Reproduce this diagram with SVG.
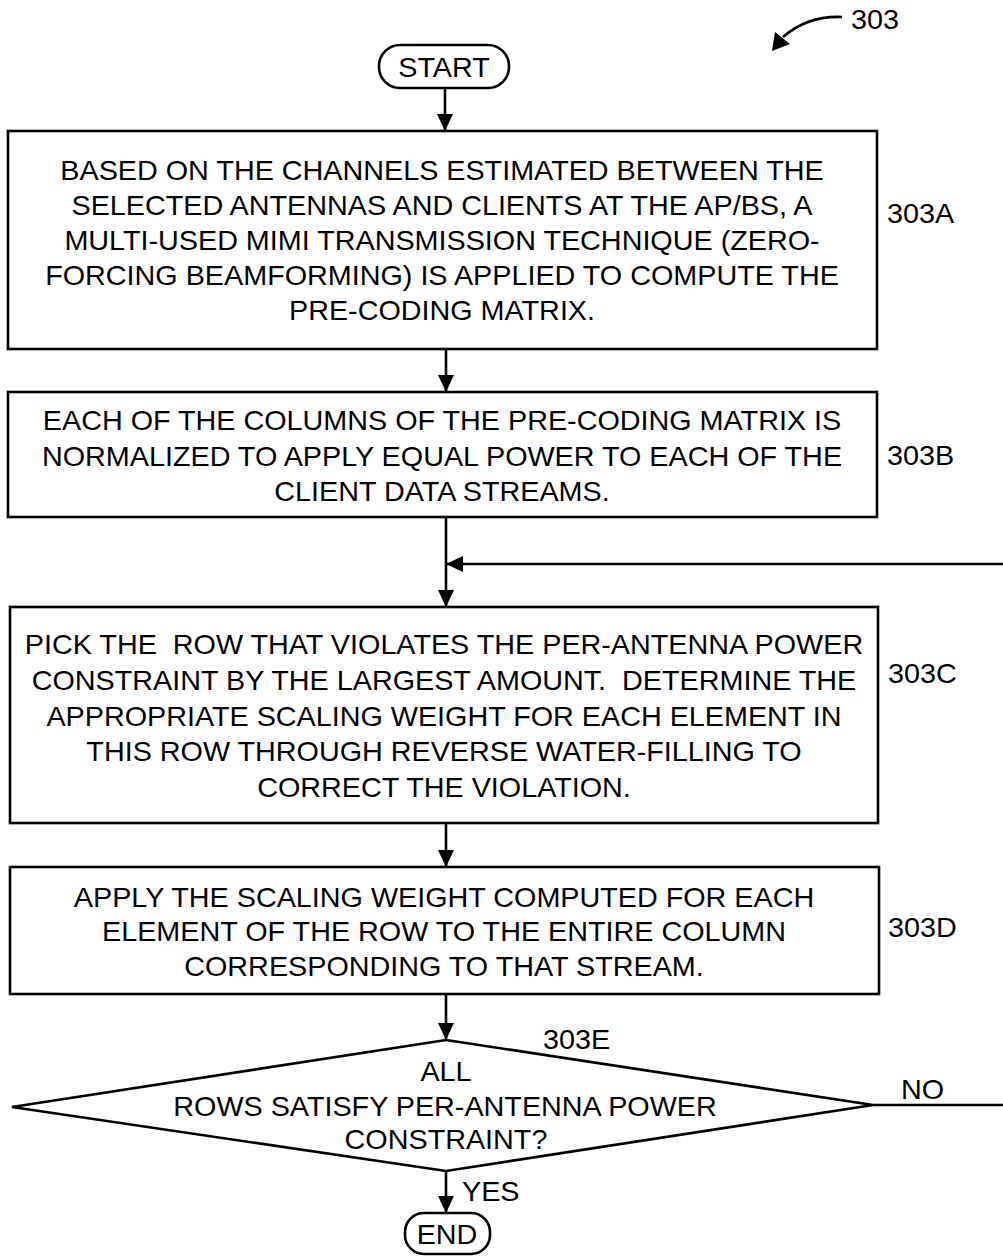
<svg xmlns="http://www.w3.org/2000/svg" width="1003" height="1258" viewBox="0 0 1003 1258">
<style>
.box{fill:#fff;stroke:#000;stroke-width:2.6}
.ln{fill:none;stroke:#000;stroke-width:2.6}
.t{font-family:"Liberation Sans",Arial,Helvetica,sans-serif;font-size:27px;fill:#000;text-anchor:middle}
.l{font-family:"Liberation Sans",Arial,Helvetica,sans-serif;font-size:27px;fill:#000;text-anchor:start}
</style>
<defs>
<marker id="ah" markerWidth="17" markerHeight="16" refX="17" refY="8" orient="auto" markerUnits="userSpaceOnUse">
<path d="M0,0 L17,8 L0,16 Z" fill="#000"/>
</marker>
</defs>

<g id="ref303">
<text class="l" transform="translate(851 29) scale(1.065 1)">303</text>
<path class="ln" d="M842,17 C818,16 798,24 783,37"/>
<path d="M772,51 L775,32 L790,44 Z" fill="#000"/>
</g>

<g id="start">
<rect class="box" x="379" y="45" width="130" height="43" rx="21" ry="21"/>
<text class="t" transform="translate(444 77) scale(1.065 1)">START</text>
</g>

<g id="n303A">
<rect class="box" x="8" y="131" width="869" height="218"/>
<text class="t" transform="translate(442 180) scale(1.065 1)">BASED ON THE CHANNELS ESTIMATED BETWEEN THE</text>
<text class="t" transform="translate(442 215) scale(1.065 1)">SELECTED ANTENNAS AND CLIENTS AT THE AP/BS, A</text>
<text class="t" transform="translate(442 250) scale(1.065 1)">MULTI-USED MIMI TRANSMISSION TECHNIQUE (ZERO-</text>
<text class="t" transform="translate(442 285) scale(1.065 1)">FORCING BEAMFORMING) IS APPLIED TO COMPUTE THE</text>
<text class="t" transform="translate(442 320) scale(1.065 1)">PRE-CODING MATRIX.</text>
<text class="l" transform="translate(887 223) scale(1.065 1)">303A</text>
</g>

<g id="n303B">
<rect class="box" x="8" y="392" width="869" height="125"/>
<text class="t" transform="translate(442 430) scale(1.065 1)">EACH OF THE COLUMNS OF THE PRE-CODING MATRIX IS</text>
<text class="t" transform="translate(442 466) scale(1.065 1)">NORMALIZED TO APPLY EQUAL POWER TO EACH OF THE</text>
<text class="t" transform="translate(442 501) scale(1.065 1)">CLIENT DATA STREAMS.</text>
<text class="l" transform="translate(887 465) scale(1.065 1)">303B</text>
</g>

<g id="n303C">
<rect class="box" x="10" y="607" width="868" height="216"/>
<text class="t" xml:space="preserve" transform="translate(444 654) scale(1.065 1)">PICK THE  ROW THAT VIOLATES THE PER-ANTENNA POWER</text>
<text class="t" xml:space="preserve" transform="translate(444 690) scale(1.065 1)">CONSTRAINT BY THE LARGEST AMOUNT.  DETERMINE THE</text>
<text class="t" transform="translate(444 726) scale(1.065 1)">APPROPRIATE SCALING WEIGHT FOR EACH ELEMENT IN</text>
<text class="t" transform="translate(444 761) scale(1.065 1)">THIS ROW THROUGH REVERSE WATER-FILLING TO</text>
<text class="t" transform="translate(444 797) scale(1.065 1)">CORRECT THE VIOLATION.</text>
<text class="l" transform="translate(888 683) scale(1.065 1)">303C</text>
</g>

<g id="n303D">
<rect class="box" x="10" y="867" width="869" height="127"/>
<text class="t" transform="translate(444 907) scale(1.065 1)">APPLY THE SCALING WEIGHT COMPUTED FOR EACH</text>
<text class="t" transform="translate(444 941) scale(1.065 1)">ELEMENT OF THE ROW TO THE ENTIRE COLUMN</text>
<text class="t" transform="translate(444 976) scale(1.065 1)">CORRESPONDING TO THAT STREAM.</text>
<text class="l" transform="translate(888 937) scale(1.065 1)">303D</text>
</g>

<g id="n303E">
<polygon class="box" points="446,1040 873,1105 446,1171 12,1107"/>
<text class="t" transform="translate(446 1081) scale(1.065 1)">ALL</text>
<text class="t" transform="translate(445 1116) scale(1.065 1)">ROWS SATISFY PER-ANTENNA POWER</text>
<text class="t" transform="translate(446 1149) scale(1.065 1)">CONSTRAINT?</text>
<text class="l" transform="translate(543 1049) scale(1.065 1)">303E</text>
</g>

<g id="end">
<rect class="box" x="405" y="1213" width="85" height="41" rx="19" ry="19"/>
<text class="t" transform="translate(447 1244) scale(1.065 1)">END</text>
</g>

<g id="connectors">
<line class="ln" x1="445" y1="88" x2="445" y2="131" marker-end="url(#ah)"/>
<line class="ln" x1="446" y1="349" x2="446" y2="392" marker-end="url(#ah)"/>
<line class="ln" x1="446" y1="517" x2="446" y2="607" marker-end="url(#ah)"/>
<line class="ln" x1="1003" y1="564" x2="446" y2="564" marker-end="url(#ah)"/>
<line class="ln" x1="446" y1="823" x2="446" y2="867" marker-end="url(#ah)"/>
<line class="ln" x1="446" y1="994" x2="446" y2="1040" marker-end="url(#ah)"/>
<line class="ln" x1="873" y1="1105" x2="1003" y2="1105"/>
<line class="ln" x1="446" y1="1171" x2="446" y2="1213" marker-end="url(#ah)"/>
<text class="l" transform="translate(901 1099) scale(1.065 1)">NO</text>
<text class="l" transform="translate(462 1201) scale(1.065 1)">YES</text>
</g>
</svg>
